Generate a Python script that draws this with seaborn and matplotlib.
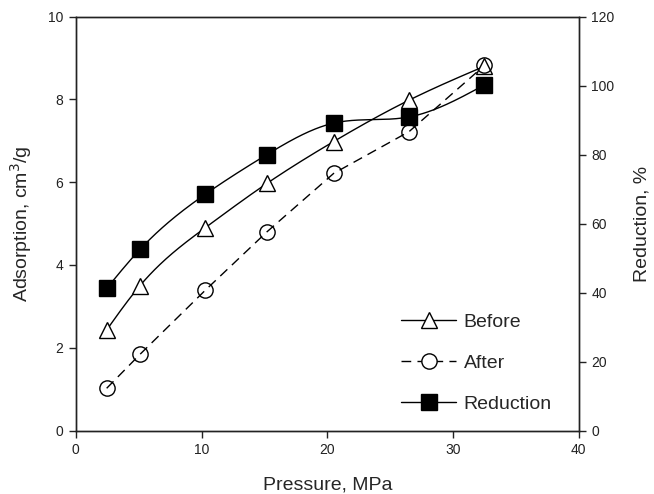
import matplotlib
matplotlib.use('Agg')
import matplotlib.pyplot as plt
from matplotlib.lines import Line2D
import seaborn as sns
import numpy as np

# data
pressure = [2.45, 5.1, 10.3, 15.2, 20.5, 26.5, 32.5]
before = [2.43, 3.5, 4.9, 5.97, 6.98, 7.98, 8.8]
after = [1.02, 1.84, 3.39, 4.8, 6.21, 7.22, 8.82]
reduction = [41.2, 52.5, 68.5, 80.0, 89.1, 90.9, 100.2]


def spline(x, y, n=300):
    # natural cubic spline, only used to draw the smooth connecting curve
    x = np.asarray(x, float)
    y = np.asarray(y, float)
    k = len(x)
    h = np.diff(x)
    A = np.zeros((k, k))
    b = np.zeros(k)
    A[0, 0] = A[-1, -1] = 1
    for i in range(1, k - 1):
        A[i, i - 1] = h[i - 1]
        A[i, i] = 2 * (h[i - 1] + h[i])
        A[i, i + 1] = h[i]
        b[i] = 6 * ((y[i + 1] - y[i]) / h[i] - (y[i] - y[i - 1]) / h[i - 1])
    m = np.linalg.solve(A, b)
    xs = np.linspace(x[0], x[-1], n)
    idx = np.clip(np.searchsorted(x, xs) - 1, 0, k - 2)
    x0, x1 = x[idx], x[idx + 1]
    hh = x1 - x0
    t0, t1 = x1 - xs, xs - x0
    ys = (m[idx] * t0 ** 3 + m[idx + 1] * t1 ** 3) / (6 * hh) \
        + (y[idx] / hh - m[idx] * hh / 6) * t0 \
        + (y[idx + 1] / hh - m[idx + 1] * hh / 6) * t1
    return xs, ys


sns.set_theme(style="ticks")
plt.rcParams['font.family'] = ['Liberation Sans', 'DejaVu Sans']
plt.rcParams['axes.linewidth'] = 1.0

fig = plt.figure(figsize=(6.54, 4.94), dpi=100)
ax = fig.add_axes([0.116, 0.1285, 0.769, 0.838])
ax2 = ax.twinx()

ms = 11
lw = 1.0
dash = (7, 4.5)

# Before
bx, by = spline(pressure, before)
sns.lineplot(x=bx, y=by, ax=ax, color='black', lw=lw, sort=False)
ax.plot(pressure, before, ls='none', marker='^', ms=ms, mfc='white', mec='black', mew=1.0, zorder=3)

# After
sns.lineplot(x=pressure, y=after, ax=ax, color='black', lw=lw, sort=False)
ax.lines[-1].set_dashes(dash)
ax.plot(pressure, after, ls='none', marker='o', ms=ms, mfc='none', mec='black', mew=1.0, zorder=3)

# Reduction on right axis
rx, ry = spline(pressure, reduction)
sns.lineplot(x=rx, y=ry, ax=ax2, color='black', lw=lw, sort=False)
ax2.plot(pressure, reduction, ls='none', marker='s', ms=ms, mfc='black', mec='black', zorder=3)

ax.set_xlim(0, 40)
ax.set_ylim(0, 10)
ax2.set_ylim(0, 120)
ax.set_xticks([0, 10, 20, 30, 40])
ax.set_yticks([0, 2, 4, 6, 8, 10])
ax2.set_yticks([0, 20, 40, 60, 80, 100, 120])

for a in (ax, ax2):
    for s in a.spines.values():
        s.set_color('#222222')
        s.set_linewidth(1.0)
    a.tick_params(direction='out', length=5, width=1.0, labelsize=10, colors='#222222', pad=4)

ax.set_xlabel('Pressure, MPa', fontsize=14, labelpad=14)
ax.set_ylabel('Adsorption, cm$^3$/g', fontsize=14, labelpad=10)
ax2.set_ylabel('Reduction, %', fontsize=14, labelpad=14)

handles = [
    Line2D([], [], color='black', lw=lw, marker='^', ms=ms, mfc='white', mec='black'),
    Line2D([], [], color='black', lw=lw, ls=(0, dash), marker='o', ms=ms, mfc='white', mec='black'),
    Line2D([], [], color='black', lw=lw, marker='s', ms=ms, mfc='black', mec='black'),
]
ax2.legend(handles, ['Before', 'After', 'Reduction'], loc='lower left',
           bbox_to_anchor=(0.62, 0.01), frameon=False, fontsize=14,
           handlelength=2.8, labelspacing=1.2, handletextpad=0.4, borderpad=0.2)

fig.savefig('out.png', dpi=100)
